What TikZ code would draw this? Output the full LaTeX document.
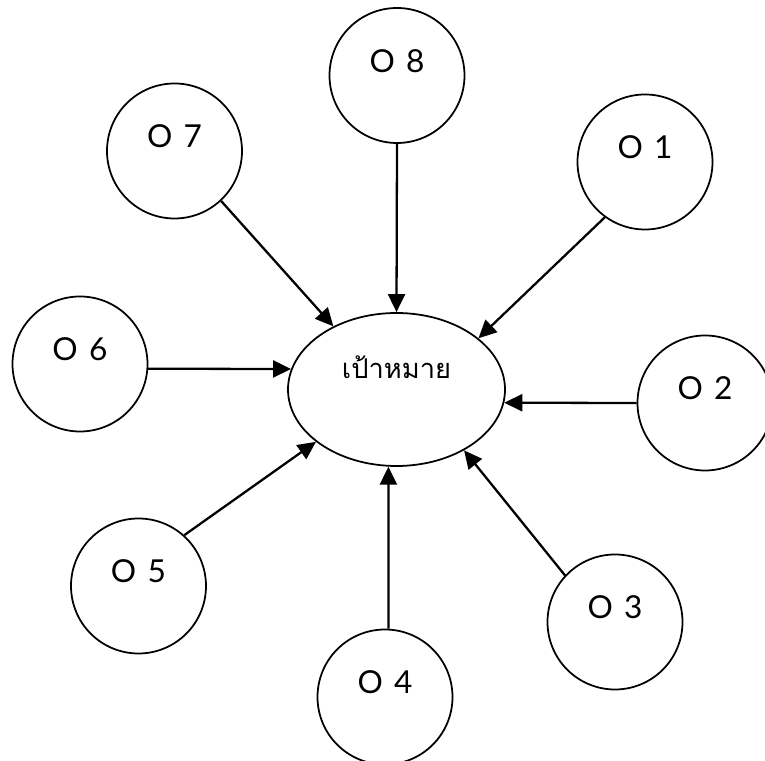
\documentclass[tikz,border=0pt]{standalone}
\usepackage{fontspec}
\setmainfont[Script=Thai]{Loma}
\newfontfamily\latinfont[WordSpace=1.4]{Lato}
\usetikzlibrary{shapes, shapes.geometric, arrows.meta, positioning}

\begin{document}
\begin{tikzpicture}[
            >={Triangle[length=0.36cm, width=0.34cm]},
            objective/.style={
				circle,
				minimum size=2.7cm,
				inner sep=0pt,
				draw=black,
				line width=1pt,
				font=\latinfont\fontsize{18}{21}\selectfont,
				text height=0.42cm,
				text depth=0.55cm
			},
            goal/.style={
				ellipse,
				minimum width=4.34cm,
				minimum height=3.06cm,
				inner sep=0pt,
				draw=black,
				line width=1pt,
				font=\fontsize{15.5}{18}\selectfont,
				text height=0.5cm,
				text depth=0.95cm
			},
            arrow/.style={
				line width=1.3pt,
				->
			}
        ]

        \useasboundingbox (0,0) rectangle (15.3,15.22);

        \node (goal) [goal] at (7.93,7.43) {เป้าหมาย};

        \node (o1) [objective] at (12.9,11.98) {O 1};
        \node (o2) [objective] at (14.1,7.16) {O 2};
        \node (o3) [objective] at (12.3,2.78) {O 3};
        \node (o4) [objective] at (7.7,1.28) {O 4};
        \node (o5) [objective] at (2.77,3.5) {O 5};
        \node (o6) [objective] at (1.6,7.94) {O 6};
        \node (o7) [objective] at (3.49,12.2) {O 7};
        \node (o8) [objective] at (7.94,13.71) {O 8};

        \draw [arrow] (o1.-126) -- (goal.32);
        \draw [arrow] (o2.west) -- (goal.-7);
        \draw [arrow] (o3.137) -- (goal.-42);
        \draw [arrow] (o4.87) -- (goal.264);
        \draw [arrow] (o5.48) -- (goal.213);
        \draw [arrow] (o6.-4) -- (goal.169);
        \draw [arrow] (o7.-47) -- (goal.135);
        \draw [arrow] (o8.south) -- (goal.north);

        \end{tikzpicture}
\end{document}
